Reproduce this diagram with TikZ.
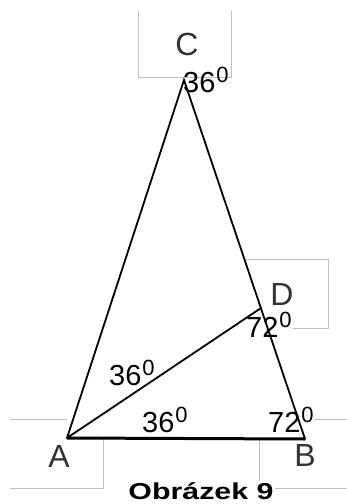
\documentclass[tikz,border=0pt]{standalone}
\usepackage{fontspec}
\setmainfont{Liberation Sans}
\newcommand\angl[1]{#1\kern1pt\raisebox{10pt}{\fontsize{22}{22}\selectfont 0}}
\begin{document}
\begin{tikzpicture}[x=1pt,y=-1pt,
  guide/.style={draw=black!25, line width=0.9pt},
  edge/.style={line width=1.8pt, line cap=round},
  baseline/.style={line width=3pt},
  lbl/.style={inner sep=0, anchor=base, text=black!80, font=\fontsize{32}{32}\selectfont},
  ang/.style={inner sep=0, anchor=base west, font=\fontsize{29}{29}\selectfont}]
\useasboundingbox (0,0) rectangle (347,504);
% guide boxes
\draw[guide] (138,11) -- (138,77) -- (231,77) -- (231,11);
\draw[guide] (246,259) -- (328,259) -- (328,328) -- (293,328);
\draw[guide] (10,419) -- (67,419);
\draw[guide] (103,439) -- (103,488) -- (10,488);
\draw[guide] (314,419) -- (347,419);
\draw[guide] (259,440) -- (259,488) -- (347,488);
% vertices
\coordinate (A) at (67,438);
\coordinate (B) at (305,439);
\coordinate (C) at (184,80);
\coordinate (D) at (261,308);
% edges
\draw[edge] (A) -- (C) -- (B);
\draw[edge] (A) -- (D);
\draw[baseline] (A) -- (B);
% vertex labels
\node[lbl] (lC) at (187,55) {C};
\node[lbl] (lD) at (282,305) {D};
\node[lbl] (lA) at (59,467) {A};
\node[lbl] (lB) at (305,466) {B};
% angle labels
\node[ang] (aC) at (183,92) {\angl{36}};
\node[ang] (aD) at (246,337) {\angl{72}};
\node[ang] (aA1) at (109,385) {\angl{36}};
\node[ang] (aA2) at (142,432) {\angl{36}};
\node[ang] (aB) at (268,432) {\angl{72}};
% caption
\node[inner sep=1.5pt, anchor=base, fill=white, font=\bfseries\fontsize{23}{23}\selectfont] (cap) at (201,499) {\scalebox{1.32}[1]{Obrázek 9}};
\end{tikzpicture}
\end{document}
